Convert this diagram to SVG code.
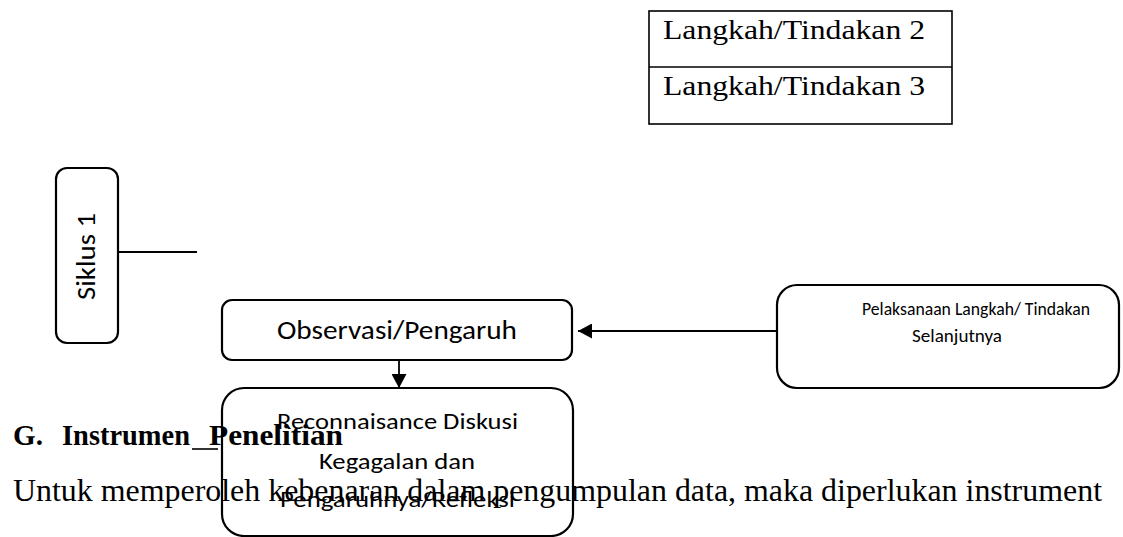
<svg xmlns="http://www.w3.org/2000/svg" width="1123" height="537" viewBox="0 0 1123 537">
<defs>
<marker id="ah" markerUnits="userSpaceOnUse" markerWidth="15" markerHeight="15" refX="14" refY="7.5" orient="auto">
<path d="M0,0 L14,7.5 L0,15 Z" fill="#000"/>
</marker>
</defs>
<style>
.box{fill:none;stroke:#000;stroke-width:2.2}
.cal{font-family:Calibri,Carlito,Lato,"Noto Sans",sans-serif;fill:#000}
.tnr{font-family:"Liberation Serif","Times New Roman",serif;fill:#000}
.conn{stroke:#000;stroke-width:1.8;fill:none}
</style>
<rect width="1123" height="537" fill="#fff"/>

<g id="body-text">
<text class="tnr" x="13" y="445" font-size="29" font-weight="bold" textLength="30" lengthAdjust="spacingAndGlyphs">G.</text>
<text class="tnr" x="62" y="445" font-size="29" font-weight="bold" textLength="128" lengthAdjust="spacingAndGlyphs">Instrumen</text>
<line x1="192" y1="449" x2="218" y2="449" stroke="#000" stroke-width="1.6"/>
<text class="tnr" x="209" y="445" font-size="29" font-weight="bold" textLength="134" lengthAdjust="spacingAndGlyphs">Penelitian</text>
<text class="tnr" x="13" y="501" font-size="31" textLength="1089" lengthAdjust="spacingAndGlyphs">Untuk memperoleh kebenaran dalam pengumpulan data, maka diperlukan instrument</text>
</g>

<g id="table">
<rect x="649" y="11" width="303" height="113" fill="none" stroke="#000" stroke-width="1.6"/>
<line x1="649" y1="67" x2="952" y2="67" stroke="#000" stroke-width="1.6"/>
<text class="tnr" x="663" y="39" font-size="27" textLength="262" lengthAdjust="spacingAndGlyphs">Langkah/Tindakan 2</text>
<text class="tnr" x="663" y="95" font-size="27" textLength="262" lengthAdjust="spacingAndGlyphs">Langkah/Tindakan 3</text>
</g>

<g id="siklus">
<rect class="box" x="56" y="168" width="62" height="175" rx="11"/>
<text class="cal" transform="translate(95,300) rotate(-90)" font-size="26" textLength="87" lengthAdjust="spacingAndGlyphs">Siklus 1</text>
</g>

<g id="observasi">
<rect class="box" x="222" y="300" width="350" height="60" rx="10"/>
<text class="cal" x="277" y="339" font-size="27" textLength="240" lengthAdjust="spacingAndGlyphs">Observasi/Pengaruh</text>
</g>

<g id="reconnaisance">
<rect class="box" x="222" y="388" width="351" height="148" rx="22"/>
<text class="cal" x="277" y="429" font-size="23" textLength="241" lengthAdjust="spacingAndGlyphs">Reconnaisance Diskusi</text>
<text class="cal" x="319" y="469" font-size="23" textLength="156" lengthAdjust="spacingAndGlyphs">Kegagalan dan</text>
<text class="cal" x="280" y="507" font-size="23" textLength="235" lengthAdjust="spacingAndGlyphs">Pengaruhnya/Refleksi</text>
</g>

<g id="pelaksanaan">
<rect class="box" x="777" y="285" width="342" height="103" rx="20"/>
<text class="cal" x="862" y="315" font-size="18" textLength="228" lengthAdjust="spacingAndGlyphs">Pelaksanaan Langkah/ Tindakan</text>
<text class="cal" x="912" y="342" font-size="18" textLength="90" lengthAdjust="spacingAndGlyphs">Selanjutnya</text>
</g>

<g id="connectors">
<line class="conn" x1="118" y1="252" x2="197" y2="252"/>
<line class="conn" x1="777" y1="331" x2="578" y2="331" marker-end="url(#ah)"/>
<line class="conn" x1="399" y1="360" x2="399" y2="388" marker-end="url(#ah)"/>
</g>
</svg>
